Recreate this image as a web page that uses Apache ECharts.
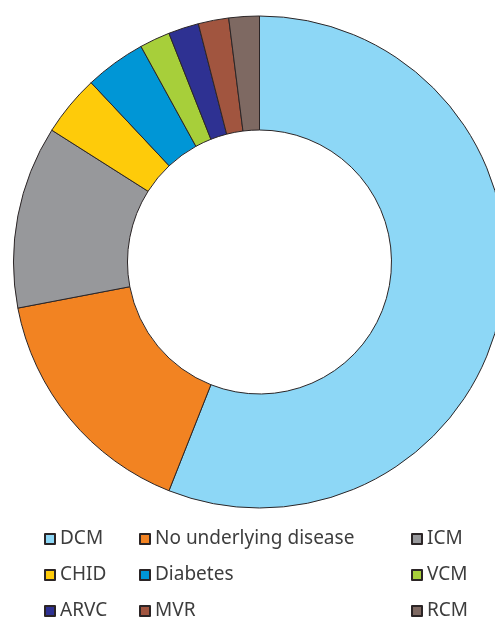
<!DOCTYPE html>
<html>
<head>
<meta charset="utf-8">
<script src="https://cdn.jsdelivr.net/npm/echarts@6/dist/echarts.min.js"></script>
<style>
  html, body { margin: 0; padding: 0; background: #ffffff; }
  #chart { width: 495px; height: 619px; }
</style>
</head>
<body>
<div id="chart"></div>
<script>
// Underlying conditions, clockwise from 12 o'clock
const categories = ['DCM', 'No underlying disease', 'ICM', 'CHID', 'Diabetes', 'VCM', 'ARVC', 'MVR', 'RCM'];
const counts = [28, 8, 6, 2, 2, 1, 1, 1, 1];
const colors = ['#8dd7f6', '#f28322', '#97989b', '#fecb0a', '#0096d6', '#a7cf3a', '#2e3192', '#a1553f', '#7e6962'];

// Legend columns (read down each column)
const legendCol1 = ['DCM', 'CHID', 'ARVC'];
const legendCol2 = ['No underlying disease', 'Diabetes', 'MVR'];
const legendCol3 = ['ICM', 'VCM', 'RCM'];

const chart = echarts.init(document.getElementById('chart'), null, { renderer: 'canvas' });

const legendText = {
  fontFamily: '"Noto Sans", "Open Sans", sans-serif',
  fontSize: 19,
  color: '#3d3d3d',
  lineHeight: 20
};

function column(data, left) {
  return {
    type: 'plain',
    data: data,
    orient: 'vertical',
    left: left,
    top: 529,
    height: 140,
    padding: 0,
    itemWidth: 10,
    itemHeight: 10,
    itemGap: 16,
    itemTextGap: 8,
    icon: 'rect',
    selectedMode: false,
    textStyle: legendText
  };
}

chart.setOption({
  animation: false,
  color: colors,
  legend: [column(legendCol1, 44), column(legendCol2, 139), column(legendCol3, 411)],
  series: [{
    type: 'pie',
    center: [259.5, 262],
    radius: [132, 246],
    startAngle: 90,
    clockwise: true,
    silent: true,
    label: { show: false },
    labelLine: { show: false },
    emphasis: { disabled: true },
    itemStyle: { borderColor: '#2b2526', borderWidth: 1 },
    data: categories.map((name, i) => ({ name: name, value: counts[i] }))
  }]
});
</script>
</body>
</html>
